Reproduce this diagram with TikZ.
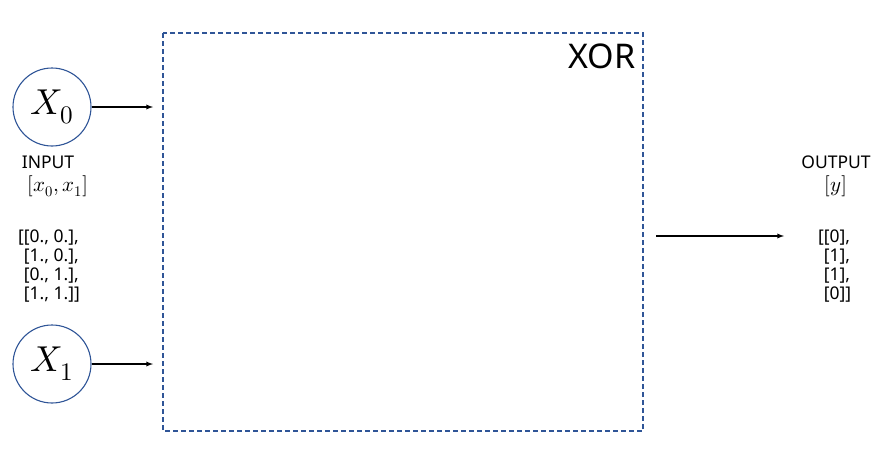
\documentclass[tikz,border=0pt]{standalone}
\usepackage{fontspec}
\setmainfont{Noto Sans}
\usepackage{unicode-math}
\definecolor{boxblue}{HTML}{2F5597}
\begin{document}
\begin{tikzpicture}[>=latex, x=1pt, y=-1pt,
  txt/.style={font=\fontsize{17.5}{19.3}\selectfont, inner sep=0pt},
  mth/.style={font=\fontsize{21}{23}\selectfont, inner sep=0pt},
  unit/.style={circle, draw=boxblue, line width=1.1pt, minimum size=78pt, inner sep=0pt, font=\fontsize{36}{38}\selectfont}]
\useasboundingbox (0,0) rectangle (888,464);
\draw[boxblue, line width=1.6pt, dash pattern=on 5pt off 3pt] (163,33) rectangle (643,431);
\node (xor) at (602,56) [font=\fontsize{34}{36}\selectfont, inner sep=0pt]{XOR};
\node (x0) at (52,107) [unit]{$X_0$};
\node (x1) at (52,364) [unit]{$X_1$};
\coordinate (in0) at (153,107);
\coordinate (in1) at (153,364);
\coordinate (outa) at (656,236);
\coordinate (outb) at (784,236);
    \draw[->, line width=1.3pt] (x0)--(in0);
    \draw[->, line width=1.3pt] (x1)--(in1);
    \draw[->, line width=1.3pt] (outa)--(outb);
\node (input) at (48,162) [txt]{INPUT};
\node (inform) at (58,186) [mth]{$[x_0, x_1]$};
\node (indata) at (18,266) [txt, anchor=west, align=left]{[[0., 0.],\\\phantom{[}[1., 0.],\\\phantom{[}[0., 1.],\\\phantom{[}[1., 1.]]};
\node (output) at (836,162) [txt]{OUTPUT};
\node (outform) at (836,186) [mth]{$[y]$};
\node (outdata) at (818,266) [txt, anchor=west, align=left]{[[0],\\\phantom{[}[1],\\\phantom{[}[1],\\\phantom{[}[0]]};
\end{tikzpicture}
\end{document}
